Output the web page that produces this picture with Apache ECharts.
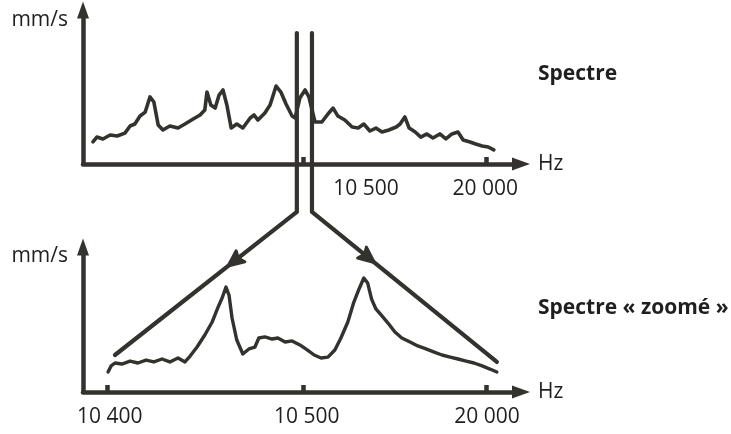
<!DOCTYPE html>
<html>
<head>
<meta charset="utf-8">
<script src="https://cdn.jsdelivr.net/npm/echarts@6/dist/echarts.min.js"></script>
<style>
  html, body { margin: 0; padding: 0; background: #fff; }
  #chart { width: 731px; height: 434px; }
</style>
</head>
<body>
<div id="chart"></div>
<script>
// Schematic frequency position (0–100 along the axis) and amplitude (0–100).
const spectrumPos = [2.3, 3.2, 4.6, 6.3, 7.9, 9.7, 10.9, 12.0, 13.2, 14.4, 15.5, 16.4, 17.4, 18.5, 20.1, 22.0, 23.6, 25.5, 27.1, 28.2,
  28.7, 29.6, 30.6, 31.5, 32.4, 33.3, 34.3, 35.6, 37.0, 38.7, 39.6, 40.5, 42.1, 43.3, 44.7, 45.8, 47.0, 48.4, 49.1, 50.2,
  51.4, 52.3, 53.7, 55.3, 56.7, 57.9, 59.0, 60.6, 62.3, 63.7, 65.0, 66.4, 67.8, 69.2, 70.8, 72.5, 73.4, 74.5, 75.5, 76.9,
  78.2, 79.6, 81.0, 82.6, 84.0, 85.4, 86.8, 88.0, 89.6, 90.9, 92.4, 93.8, 95.1];
const spectrumAmp = [14.9, 18.2, 16.9, 19.6, 18.9, 20.9, 25.7, 27.0, 32.4, 35.1, 45.3, 41.9, 26.4, 23.0, 25.7, 24.3, 27.0, 30.4, 33.1, 36.5,
  48.6, 39.9, 37.8, 46.6, 50.0, 39.9, 24.3, 27.0, 24.3, 31.1, 33.1, 29.7, 34.5, 39.9, 52.7, 48.6, 40.5, 32.4, 31.1, 44.6,
  50.0, 45.3, 28.4, 28.4, 33.8, 37.8, 32.4, 29.7, 25.0, 24.3, 27.0, 22.3, 24.3, 21.6, 23.0, 25.0, 27.0, 31.8, 24.3, 21.6,
  18.2, 20.3, 17.6, 20.3, 16.9, 20.3, 21.6, 16.2, 14.9, 13.5, 12.2, 11.5, 9.5];

const zoomPos = [5.8, 6.5, 7.4, 9.0, 10.9, 12.7, 14.6, 16.4, 18.3, 20.1, 22.0, 23.6, 24.8, 26.4, 28.2, 29.9, 31.2, 32.2, 33.1, 33.8,
  34.5, 35.6, 37.0, 38.4, 39.8, 40.7, 42.1, 43.8, 45.1, 46.8, 48.4, 50.2, 51.9, 53.5, 55.1, 56.7, 58.3, 59.7, 61.3, 62.7,
  63.9, 65.0, 65.9, 66.8, 67.8, 69.2, 70.6, 72.2, 73.8, 75.7, 77.5, 79.4, 81.3, 83.1, 85.0, 86.8, 88.7, 90.5, 92.4, 94.2, 95.8];
const zoomAmp = [13.5, 17.6, 19.6, 18.9, 20.9, 19.6, 21.6, 20.3, 22.3, 20.3, 23.0, 20.3, 24.3, 30.4, 38.5, 47.3, 56.8, 63.5, 70.9, 65.5,
  50.0, 35.1, 25.7, 29.1, 30.4, 36.5, 37.2, 35.8, 36.5, 33.8, 34.5, 31.8, 28.4, 25.0, 23.0, 23.6, 28.4, 36.5, 47.3, 60.8,
  69.6, 77.0, 73.6, 62.8, 56.1, 51.4, 46.6, 40.5, 36.5, 33.8, 31.1, 29.1, 27.0, 25.0, 23.6, 22.3, 20.9, 19.6, 17.6, 15.5, 13.5];

// Tick marks and their labels
const spectrumTicks = [50.9, 93.3];
const spectrumLabelPos = [65.5, 93.1];
const spectrumLabels = ['10 500', '20 000'];
const zoomTicks = [5.6, 50.9, 93.3];
const zoomLabelPos = [6.2, 51.8, 93.5];
const zoomLabels = ['10 400', '10 500', '20 000'];

// Zoom window on the full spectrum and where it lands on the zoomed one
const bandPos = [49.5, 53.0];
const bandTop = 88.5;
const bandBottom = -32.4;
const zoomEndLeft = [7.4, 25.0];
const zoomEndRight = [95.8, 20.3];

const INK = '#34322e';
const TEXT = '#1f1f1f';
const FONT = 'Open Sans';

function pairs(xs, ys) { return xs.map((x, i) => [x, ys[i]]); }
function labelFor(positions, texts) {
  return v => {
    const i = positions.findIndex(p => Math.abs(p - v) < 1e-6);
    return i >= 0 ? texts[i] : '';
  };
}

function xAxisFor(gridIndex, ticks, labelPos, labels) {
  return {
    gridIndex, type: 'value', min: 0, max: 100,
    axisLine: { show: true, onZero: false, symbol: ['none', 'triangle'], symbolSize: [13, 18],
      symbolOffset: [0, 6], lineStyle: { color: INK, width: 4.5 } },
    axisTick: { show: true, inside: true, length: 7, customValues: ticks,
      lineStyle: { color: INK, width: 4.5 } },
    axisLabel: { show: true, customValues: labelPos, formatter: labelFor(labelPos, labels),
      margin: 15, fontSize: 21, color: TEXT, fontFamily: FONT },
    splitLine: { show: false },
    name: 'Hz', nameLocation: 'end', nameGap: 23,
    nameTextStyle: { fontSize: 21, color: TEXT, fontFamily: FONT, align: 'left', verticalAlign: 'middle' }
  };
}
function yAxisFor(gridIndex, max, gap) {
  return {
    gridIndex, type: 'value', min: 0, max,
    axisLine: { show: true, symbol: ['none', 'triangle'], symbolSize: [12, 17], symbolOffset: [0, 6],
      lineStyle: { color: INK, width: 4.5 } },
    axisTick: { show: false }, axisLabel: { show: false }, splitLine: { show: false },
    name: 'mm/s', nameLocation: 'end', nameGap: gap,
    nameTextStyle: { fontSize: 21, color: TEXT, fontFamily: FONT, align: 'right',
      verticalAlign: 'middle', padding: [0, 15, 0, 0] }
  };
}

const chart = echarts.init(document.getElementById('chart'), null, { renderer: 'canvas' });
chart.setOption({
  animation: false,
  backgroundColor: '#ffffff',
  title: [
    { text: 'Spectre', left: 538, top: 64, padding: 0,
      textStyle: { fontSize: 21, fontWeight: 'bold', color: TEXT, fontFamily: FONT } },
    { text: 'Spectre « zoomé »', left: 538, top: 298, padding: 0,
      textStyle: { fontSize: 21, fontWeight: 'bold', color: TEXT, fontFamily: FONT } }
  ],
  grid: [
    { left: 83, top: 16, width: 432, height: 148 },
    { left: 83, top: 253, width: 432, height: 139 }
  ],
  xAxis: [
    xAxisFor(0, spectrumTicks, spectrumLabelPos, spectrumLabels),
    xAxisFor(1, zoomTicks, zoomLabelPos, zoomLabels)
  ],
  yAxis: [yAxisFor(0, 100, -4), yAxisFor(1, 139 / 1.48, -3)],
  series: [
    { type: 'line', xAxisIndex: 0, yAxisIndex: 0, data: pairs(spectrumPos, spectrumAmp),
      showSymbol: false, lineStyle: { color: INK, width: 3.6, join: 'round', cap: 'round' } },
    { type: 'line', xAxisIndex: 1, yAxisIndex: 1, data: pairs(zoomPos, zoomAmp),
      showSymbol: false, lineStyle: { color: INK, width: 3.4, join: 'round', cap: 'round' } }
  ]
});

// Zoom funnel: two vertical lines around the window, then diagonals to the zoomed axis.
function px(axisIdx, pt) {
  return chart.convertToPixel({ xAxisIndex: axisIdx, yAxisIndex: axisIdx }, pt);
}
const lTop = px(0, [bandPos[0], bandTop]);
const lBend = px(0, [bandPos[0], bandBottom]);
const rTop = px(0, [bandPos[1], bandTop]);
const rBend = px(0, [bandPos[1], bandBottom]);
const lEnd = px(1, zoomEndLeft);
const rEnd = px(1, zoomEndRight);

function arrowHead(a, b, t) {
  const cx = a[0] + (b[0] - a[0]) * t, cy = a[1] + (b[1] - a[1]) * t;
  const len = Math.hypot(b[0] - a[0], b[1] - a[1]);
  const ux = (b[0] - a[0]) / len, uy = (b[1] - a[1]) / len;
  const nx = -uy, ny = ux;
  return {
    type: 'polygon', z: 100,
    shape: { points: [
      [cx + ux * 9, cy + uy * 9],
      [cx - ux * 7 + nx * 7, cy - uy * 7 + ny * 7],
      [cx - ux * 4, cy - uy * 4],
      [cx - ux * 7 - nx * 7, cy - uy * 7 - ny * 7]
    ] },
    style: { fill: INK, stroke: INK, lineWidth: 3, lineJoin: 'round' }
  };
}

const lineStyle = { stroke: INK, lineWidth: 4.2, fill: null, lineJoin: 'round', lineCap: 'round' };
chart.setOption({
  graphic: [
    { type: 'polyline', z: 100, shape: { points: [lTop, lBend, lEnd] }, style: lineStyle },
    { type: 'polyline', z: 100, shape: { points: [rTop, rBend, rEnd] }, style: lineStyle },
    arrowHead(lBend, lEnd, 0.34),
    arrowHead(rBend, rEnd, 0.30)
  ]
});
</script>
</body>
</html>
